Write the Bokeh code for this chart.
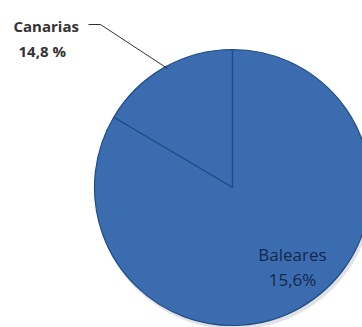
import numpy as np
from bokeh.plotting import figure
from bokeh.models import Range1d
from bokeh.core.properties import value
from bokeh.embed import file_html
from bokeh.resources import INLINE

# Data
categories = ["Canarias", "Baleares"]
pct_labels = ["14,8 %", "15,6%"]
slice_values = [16.5, 83.5]   # share of the circle as drawn in the picture

W, H = 362, 327
p = figure(width=W, height=H, output_backend="svg", toolbar_location=None,
           x_range=Range1d(0, W), y_range=Range1d(0, H), min_border=0,
           background_fill_color="white", border_fill_color="white")
p.axis.visible = False
p.grid.visible = False
p.outline_line_color = None

cx, cy, r = 232, 140, 138
vals = np.array(slice_values, dtype=float)
fr = vals / vals.sum()
starts = np.pi / 2 + 2 * np.pi * np.concatenate([[0], np.cumsum(fr)[:-1]])
ends = np.pi / 2 + 2 * np.pi * np.cumsum(fr)

# soft shadow
p.wedge(x=cx + 2, y=cy - 3, radius=r + 1, start_angle=0, end_angle=2 * np.pi,
        fill_color="#9aa0aa", fill_alpha=0.3, line_color=None)

p.wedge(x=[cx] * len(vals), y=[cy] * len(vals), radius=r,
        start_angle=starts, end_angle=ends,
        fill_color="#3b6cb0", line_color="#1f4c86", line_width=1.2)

# label for Canarias (outside with leader)
p.line(x=[88, 100, 167], y=[303, 303, 259], line_color="#333333", line_width=1)
p.text(x=[13], y=[302], text=[categories[0]], text_font=value("Open Sans"),
       text_font_style="bold", text_font_size="15px", text_color="#333333",
       text_baseline="alphabetic", text_align="left")
p.text(x=[18], y=[277], text=[pct_labels[0]], text_font=value("Open Sans"),
       text_font_style="bold", text_font_size="15px", text_color="#333333",
       text_baseline="alphabetic", text_align="left")

# label for Baleares (inside)
p.text(x=[292], y=[73], text=[categories[1]], text_font=value("Open Sans"),
       text_font_size="17px", text_color="#14284a",
       text_baseline="alphabetic", text_align="center")
p.text(x=[292], y=[48], text=[pct_labels[1]], text_font=value("Open Sans"),
       text_font_size="17px", text_color="#14284a",
       text_baseline="alphabetic", text_align="center")

open("out.html", "w").write(file_html(p, INLINE))
